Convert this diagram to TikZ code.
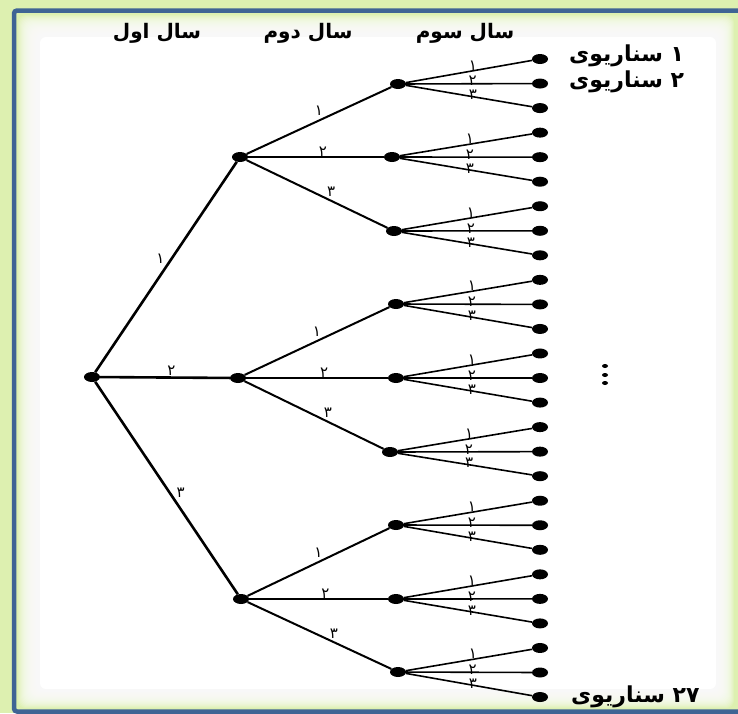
\documentclass[tikz,border=0pt]{standalone}
\usepackage{fontspec}
\newfontfamily\arabicfont[Script=Arabic]{DejaVu Sans}
\TeXXeTstate=1
\usetikzlibrary{shapes.geometric}
\definecolor{bggreen}{HTML}{DDF0B0}
\definecolor{frameblue}{HTML}{3F6494}
\begin{document}
\begin{tikzpicture}[x=1pt,y=-1pt,
  dot/.style={ellipse,fill=black,minimum width=16pt,minimum height=10pt,inner sep=0pt},
  vdot/.style={ellipse,fill=black,minimum width=6pt,minimum height=4pt,inner sep=0pt},
  eone/.style={line width=2.6pt},
  etwo/.style={line width=2pt},
  ethree/.style={line width=1.6pt},
  lab/.style={font=\arabicfont\fontsize{15}{17}\selectfont, inner sep=1pt},
  head/.style={font=\arabicfont\bfseries\fontsize{20}{22}\selectfont, inner sep=0pt},
  scen/.style={font=\arabicfont\bfseries\fontsize{22}{24}\selectfont, inner sep=0pt},
]
\useasboundingbox (0,0) rectangle (738,713);
\fill[bggreen] (0,0) rectangle (738,713);
\begin{scope}
\clip (0,0) rectangle (738,713);
\draw[frameblue,line width=4.5pt,rounded corners=3pt,line cap=butt] (738,10.5) -- (14,10.5) -- (14,711.5) -- (738,711.5);
\end{scope}
\foreach \i in {0,...,21}
  \fill[white,opacity=0.14,rounded corners=8pt] ({18+\i},{15+\i}) rectangle ({734-0.8*\i},{708-0.9*\i});
\fill[white,rounded corners=6pt] (40,37) rectangle (716,689);

% headers
\node[head] (h1) at (157,33) {\beginR سال اول\endR};
\node[head] (h2) at (308,33) {\beginR سال دوم\endR};
\node[head] (h3) at (465,33) {\beginR سال سوم\endR};

% nodes
\node[dot] (r) at (92,377) {};
\node[dot] (a1) at (240,157) {};
\node[dot] (a2) at (238,378) {};
\node[dot] (a3) at (241,599) {};
\foreach \j/\bx/\by in {1/398/84,2/392/157,3/394/231,4/396/304,5/396/378,6/390/452,7/396/525,8/396/599,9/398/672}
  \node[dot] (b\j) at (\bx,\by) {};
\foreach \k in {1,...,27}
  \node[dot] (c\k) at (540,{59+24.54*(\k-1)}) {};

% level 1 edges
\draw[eone] (r) -- node[lab,pos=0.54,left=5pt] {۱} (a1);
\draw[eone] (r) -- node[lab,pos=0.55,above=0pt] {۲} (a2);
\draw[eone] (r) -- node[lab,pos=0.52,right=5pt] {۳} (a3);

% level 2 edges
\foreach \a/\p/\q/\s in {1/1/2/3,2/4/5/6,3/7/8/9}{
  \draw[etwo] (a\a) -- node[lab,pos=0.5,anchor=south,inner sep=4pt] {۱} (b\p);
  \draw[etwo] (a\a) -- node[lab,pos=0.55,anchor=south,inner sep=0pt] {۲} (b\q);
  \draw[etwo] (a\a) -- node[lab,pos=0.6,anchor=south,inner sep=3pt] {۳} (b\s);
}

% level 3 edges
\foreach \j in {1,...,9}{
  \pgfmathtruncatemacro\ka{3*\j-2}
  \pgfmathtruncatemacro\kb{3*\j-1}
  \pgfmathtruncatemacro\kc{3*\j}
  \draw[ethree] (b\j) -- node[lab,pos=0.53,anchor=south,inner sep=0pt,yshift=0pt] {۱} (c\ka);
  \draw[ethree] (b\j) -- node[lab,pos=0.53,anchor=south,inner sep=0pt,yshift=-3pt] {۲} (c\kb);
  \draw[ethree] (b\j) -- node[lab,pos=0.53,anchor=south,inner sep=0pt,yshift=-4pt] {۳} (c\kc);
}

% vertical dots
\node[vdot] (v1) at (605,366) {};
\node[vdot] (v2) at (605,375) {};
\node[vdot] (v3) at (605,383) {};

% scenario labels
\node[scen,anchor=west] (s1) at (569,56) {\beginR ۱ سناریوی\endR};
\node[scen,anchor=west] (s2) at (569,82) {\beginR ۲ سناریوی\endR};
\node[scen,anchor=west] (s27) at (571,697) {\beginR ۲۷ سناریوی\endR};
\end{tikzpicture}
\end{document}
